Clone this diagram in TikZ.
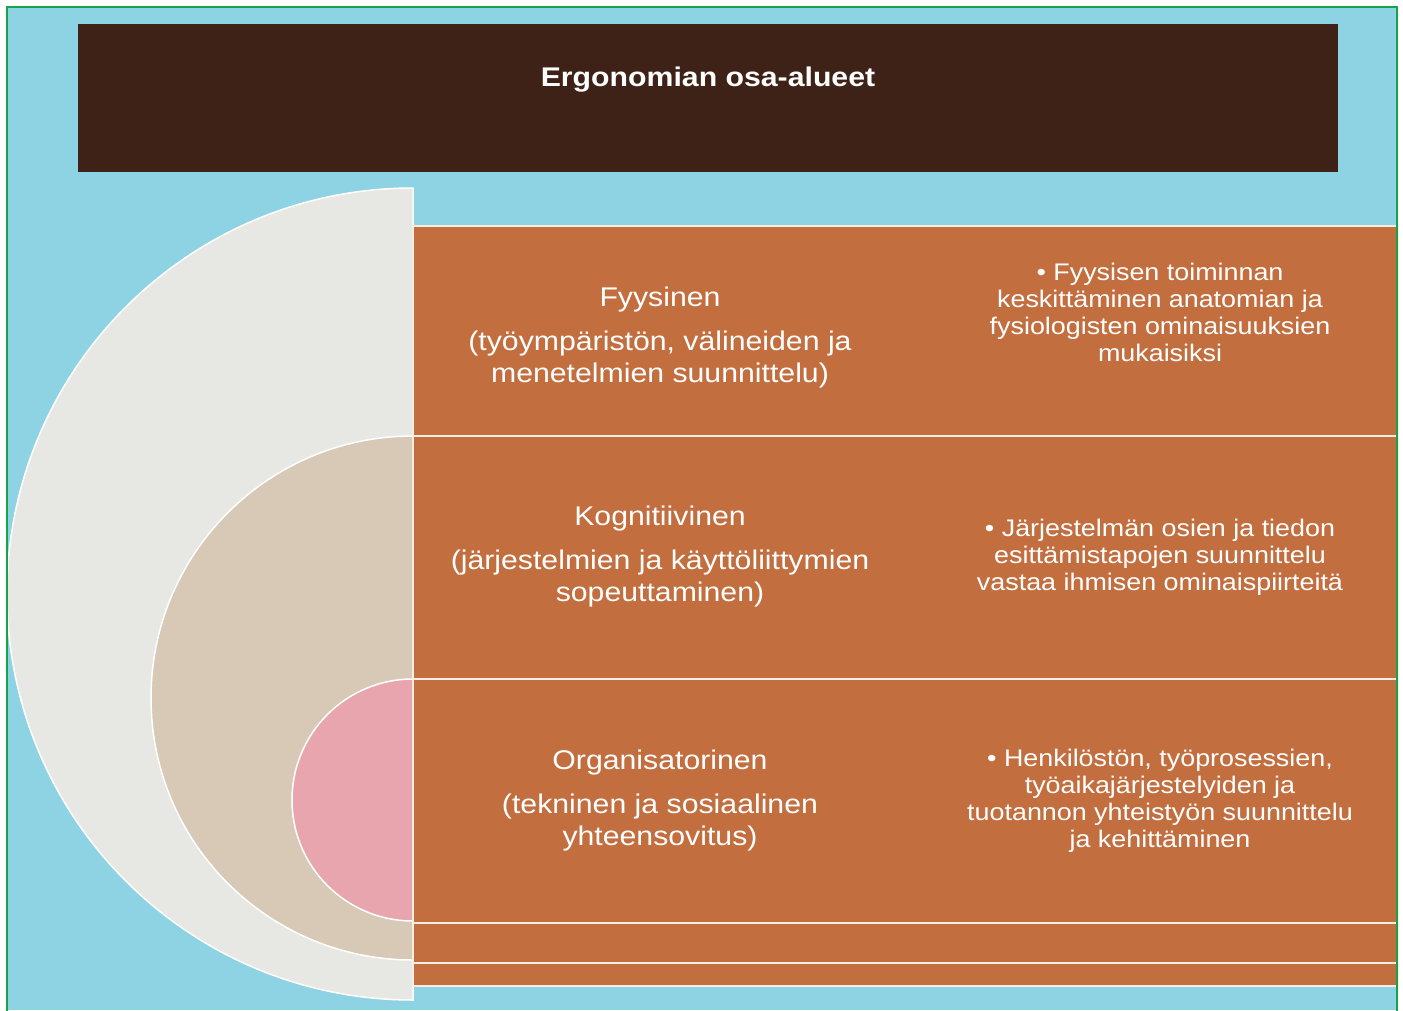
\documentclass[tikz,border=0pt]{standalone}
\usepackage{fontspec}
\setmainfont{Liberation Sans}[FakeStretch=1.12]
\usepackage{tikz}
\usetikzlibrary{positioning}
\definecolor{water}{HTML}{8ED3E3}
\definecolor{frame}{HTML}{17A34A}
\definecolor{bark}{HTML}{3F2217}
\definecolor{clay}{HTML}{C26E3F}
\definecolor{cream}{HTML}{F6EEE2}
\definecolor{stone}{HTML}{E7E7E4}
\definecolor{sand}{HTML}{D7C9B5}
\definecolor{rose}{HTML}{E8A5AD}

\begin{document}
\begin{tikzpicture}[x=1pt,y=-1pt,
  band/.style={fill=clay,draw=cream,line width=2pt},
  half/.style={draw=white,line width=1.5pt},
  head/.style={text=white,align=center,font=\fontsize{27}{32}\selectfont},
  note/.style={text=white,align=center,font=\fontsize{24}{27}\selectfont}]
\useasboundingbox (0,0) rectangle (1403,1010);
\fill[white] (0,0) rectangle (1403,1010);
\fill[water] (7,7) rectangle (1397,1010);
% title bar
\node[fill=bark,minimum width=1260pt,minimum height=148pt,anchor=north west,inner sep=0pt] (bar) at (78,24) {};
\node[text=white,font=\bfseries\fontsize{27}{32}\selectfont] (title) at (708,80) {Ergonomian osa-alueet};
% half discs
\fill[stone,half] (413,188) arc[start angle=270,end angle=90,radius=406] -- cycle;
\fill[sand,half] (413,436) arc[start angle=270,end angle=90,radius=262] -- cycle;
\fill[rose,half] (413,679) arc[start angle=270,end angle=90,radius=121] -- cycle;
% bands
\draw[band] (413,226) rectangle (1398,436);
\draw[band] (413,436) rectangle (1398,679);
\draw[band] (413,679) rectangle (1398,923);
\draw[band] (413,923) rectangle (1398,963);
\draw[band] (413,963) rectangle (1398,986);
% texts
\node[head] (fys) at (660,338) {Fyysinen\\[12pt](työympäristön, välineiden ja\\menetelmien suunnittelu)};
\node[head] (kog) at (660,557) {Kognitiivinen\\[12pt](järjestelmien ja käyttöliittymien\\sopeuttaminen)};
\node[head] (org) at (660,801) {Organisatorinen\\[12pt](tekninen ja sosiaalinen\\yhteensovitus)};
\node[note] (n1) at (1160,312) {\textbullet\ Fyysisen toiminnan\\keskittäminen anatomian ja\\fysiologisten ominaisuuksien\\mukaisiksi};
\node[note] (n2) at (1160,557) {\textbullet\ Järjestelmän osien ja tiedon\\esittämistapojen suunnittelu\\vastaa ihmisen ominaispiirteitä};
\node[note] (n3) at (1160,801) {\textbullet\ Henkilöstön, työprosessien,\\työaikajärjestelyiden ja\\tuotannon yhteistyön suunnittelu\\ja kehittäminen};
% frame
\draw[frame,line width=2.5pt] (7,1020) -- (7,7) -- (1397,7) -- (1397,1020);
\end{tikzpicture}
\end{document}
